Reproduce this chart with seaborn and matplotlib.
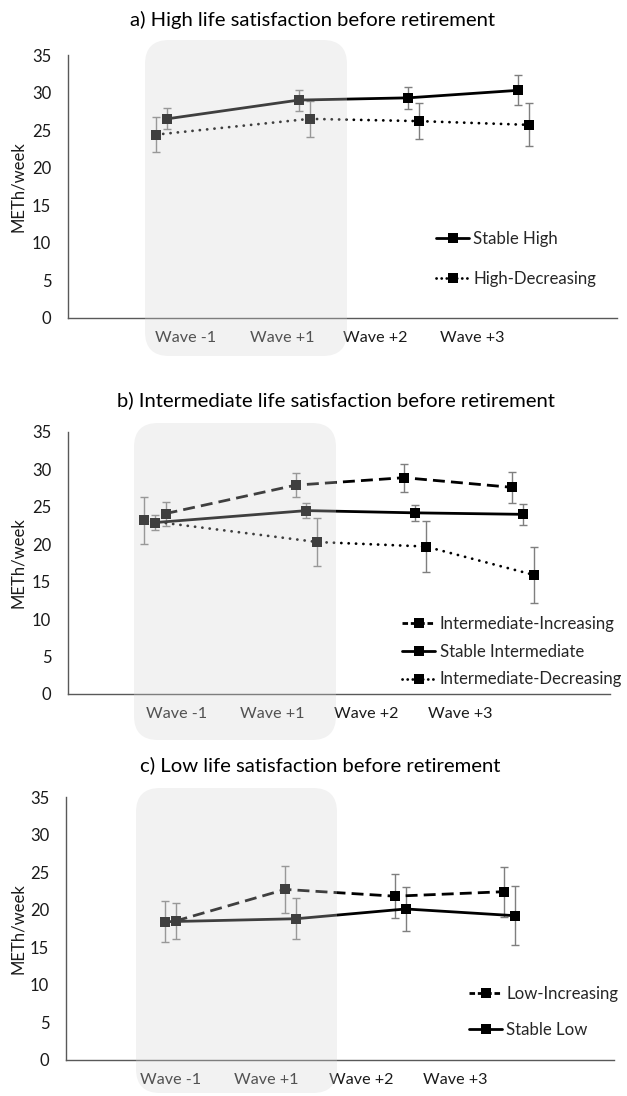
import numpy as np
import matplotlib
matplotlib.use("Agg")
import matplotlib.pyplot as plt
from matplotlib.patches import FancyBboxPatch
from matplotlib.lines import Line2D
import seaborn as sns

# data
waves = ["Wave -1", "Wave +1", "Wave +2", "Wave +3"]

high_stable = [26.5, 29.0, 29.3, 30.3]
high_stable_err = [1.4, 1.4, 1.5, 2.0]
high_decr = [24.4, 26.5, 26.2, 25.7]
high_decr_err = [2.3, 2.4, 2.35, 2.85]

mid_incr = [24.1, 27.9, 28.9, 27.6]
mid_incr_err = [1.6, 1.6, 1.85, 2.1]
mid_stable = [22.9, 24.5, 24.2, 24.0]
mid_stable_err = [1.0, 1.0, 1.05, 1.4]
mid_decr = [23.2, 20.3, 19.7, 15.9]
mid_decr_err = [3.1, 3.15, 3.35, 3.75]

low_incr = [18.5, 22.7, 21.8, 22.4]
low_incr_err = [2.35, 3.1, 2.9, 3.35]
low_stable = [18.4, 18.8, 20.1, 19.2]
low_stable_err = [2.7, 2.7, 2.9, 3.95]

titles = ["a) High life satisfaction before retirement",
          "b) Intermediate life satisfaction before retirement",
          "c) Low life satisfaction before retirement"]

sns.set_style("white")
plt.rcParams['font.family'] = ['Lato', 'DejaVu Sans']

W, H = 627, 1096
fig = plt.figure(figsize=(W / 100, H / 100), dpi=100)

AXC = '#595959'
TXT = '#1a1a1a'
DASH = (0, (4.3, 2.2))
DOT = (0, (0.05, 2.6))
# shorter patterns for the legend keys, as in the original
LEG_STYLE = {DASH: (0, (2.0, 1.0)), DOT: (0, (0.05, 1.8)), '-': '-'}
LW = 2.0
MS = 7


def px_axes(left, right, top, bottom):
    return fig.add_axes([left / W, (H - bottom) / H, (right - left) / W, (bottom - top) / H])


def line_kw(ls):
    kw = dict(color='black', linestyle=ls, linewidth=LW, marker='s', markersize=MS,
              markeredgewidth=0)
    if ls != '-':
        kw['dash_capstyle'] = 'round' if ls in (DOT, LEG_STYLE[DOT]) else 'butt'
    return kw


def draw_series(ax, vals, errs, offs, ls, label):
    x = np.arange(1, 5) + np.array(offs)
    ax.errorbar(x, vals, yerr=errs, fmt='none', ecolor='#7f7f7f', elinewidth=1,
                capsize=2.6, capthick=1, zorder=2)
    sns.lineplot(x=x, y=vals, ax=ax, zorder=3, legend=False, **line_kw(ls))
    return Line2D([], [], label=label, **line_kw(LEG_STYLE[ls]))


def style_axes(ax, label_pos):
    ax.set_xlim(0, 5)
    ax.set_ylim(0, 35)
    ax.set_yticks(range(0, 36, 5))
    for s in ['top', 'right']:
        ax.spines[s].set_visible(False)
    for s in ['left', 'bottom']:
        ax.spines[s].set_color(AXC)
        ax.spines[s].set_linewidth(1)
    ax.set_xticks([1, 2, 3, 4])
    ax.set_xticklabels([])
    ax.set_xticks(label_pos, minor=True)
    ax.set_xticklabels(waves, minor=True)
    ax.tick_params(axis='x', which='major', direction='in', length=4, width=1, color=AXC)
    ax.tick_params(axis='x', which='minor', length=0, pad=9, labelsize=11.6, labelcolor=TXT)
    ax.tick_params(axis='y', length=0, pad=12, labelsize=12, labelcolor=TXT)
    ax.set_xlabel("")
    ax.set_ylabel("METh/week", fontsize=12, color=TXT)
    pos = ax.get_position()
    ax.yaxis.set_label_coords((26 - pos.x0 * W) / (pos.width * W), 0.5)


def legend(ax, handles, x, y, spacing):
    ax.legend(handles=handles, loc='upper left', bbox_to_anchor=(x, y), frameon=False,
              fontsize=12.1, borderpad=0, borderaxespad=0, handlelength=2.0,
              handletextpad=0.24, labelspacing=spacing)


# panel a
ax1 = px_axes(68, 617, 55, 318)
h = [draw_series(ax1, high_stable, high_stable_err, [-0.1, 0.1, 0.1, 0.1], '-', "Stable High"),
     draw_series(ax1, high_decr, high_decr_err, [-0.2, 0.2, 0.2, 0.2], DOT, "High-Decreasing")]
style_axes(ax1, [1.07, 1.95, 2.8, 3.68])
legend(ax1, h, 0.67, 0.332, 1.44)

# panel b
ax2 = px_axes(68, 610, 432, 694)
h = [draw_series(ax2, mid_incr, mid_incr_err, [-0.1, 0.1, 0.1, 0.1], DASH, "Intermediate-Increasing"),
     draw_series(ax2, mid_stable, mid_stable_err, [-0.2, 0.2, 0.2, 0.2], '-', "Stable Intermediate"),
     draw_series(ax2, mid_decr, mid_decr_err, [-0.3, 0.3, 0.3, 0.3], DOT, "Intermediate-Decreasing")]
style_axes(ax2, [1.003, 1.88, 2.75, 3.62])
legend(ax2, h, 0.616, 0.298, 0.70)

# panel c
ax3 = px_axes(66, 614, 797, 1060)
h = [draw_series(ax3, low_incr, low_incr_err, [0, 0, 0, 0], DASH, "Low-Increasing"),
     draw_series(ax3, low_stable, low_stable_err, [-0.1, 0.1, 0.1, 0.1], '-', "Stable Low")]
style_axes(ax3, [0.95, 1.83, 2.69, 3.55])
legend(ax3, h, 0.735, 0.282, 1.2)

# titles
for (cx, cy), t in zip([(312, 20), (336, 400), (320, 765)], titles):
    fig.text(cx / W, 1 - cy / H, t, ha='center', va='center', fontsize=14.6, color='black')

# translucent rounded boxes over the retirement window
for (l, r, t, b) in [(145, 347, 40, 356), (134, 336, 423, 740), (136, 337, 788, 1093)]:
    box = FancyBboxPatch((l / 100, (H - b) / 100), (r - l) / 100, (b - t) / 100,
                         boxstyle="round,pad=0,rounding_size=0.24",
                         transform=fig.dpi_scale_trans, facecolor='#d4d4d4',
                         edgecolor='none', alpha=0.3, zorder=10)
    fig.add_artist(box)

fig.savefig("out.png", dpi=100)
